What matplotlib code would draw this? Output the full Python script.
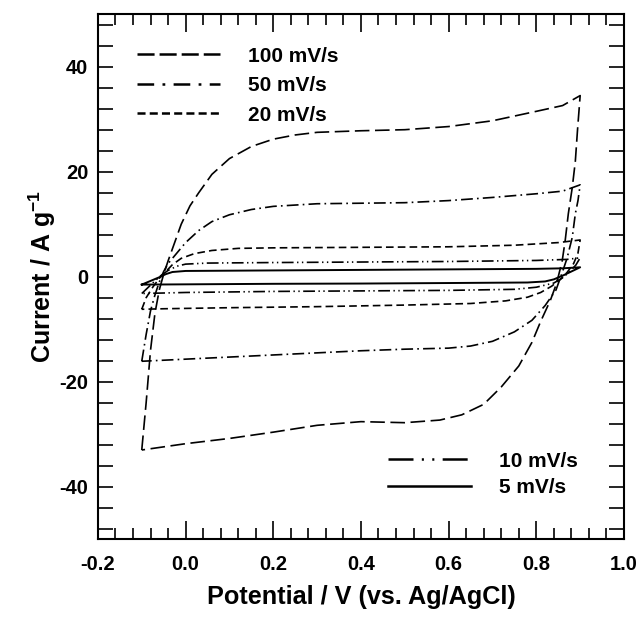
import numpy as np
import matplotlib
matplotlib.use("Agg")
import matplotlib.pyplot as plt
from matplotlib.lines import Line2D
from matplotlib.ticker import MultipleLocator

plt.rcParams['font.family'] = ['Liberation Sans', 'DejaVu Sans']
plt.rcParams['font.weight'] = 'bold'
plt.rcParams['axes.unicode_minus'] = False
plt.rcParams['mathtext.fontset'] = 'custom'
plt.rcParams['mathtext.rm'] = 'Liberation Sans:bold'
plt.rcParams['mathtext.bf'] = 'Liberation Sans:bold'
plt.rcParams['mathtext.default'] = 'bf'
plt.rcParams['lines.scale_dashes'] = False

# --- CV loops: potential (V) and current (A/g) ---
# 100 mV/s
v100 = [-0.10, -0.09, -0.08, -0.07, -0.06, -0.05, -0.04, -0.025, -0.01, 0.01, 0.03, 0.06,
        0.10, 0.15, 0.20, 0.25, 0.30, 0.40, 0.50, 0.60, 0.70, 0.80, 0.86, 0.90,
        0.894, 0.889, 0.882, 0.873, 0.866, 0.859, 0.85, 0.843, 0.832, 0.81, 0.79, 0.76,
        0.72, 0.68, 0.63, 0.58, 0.50, 0.40, 0.30, 0.20, 0.10, 0.00, -0.05, -0.10]
i100 = [-33.0, -24.0, -14.0, -7.0, -2.5, 0.5, 3.0, 6.5, 10.0, 13.5, 16.0, 19.5,
        22.5, 24.8, 26.2, 27.0, 27.5, 27.8, 28.0, 28.6, 29.7, 31.5, 32.6, 34.5,
        28.0, 22.0, 17.0, 12.0, 7.0, 3.0, 0.0, -2.0, -4.5, -8.5, -12.5, -17.0,
        -21.0, -24.3, -26.3, -27.3, -27.8, -27.6, -28.3, -29.6, -30.8, -31.8, -32.4, -33.0]

# 50 mV/s
v50 = [-0.10, -0.09, -0.08, -0.07, -0.06, -0.05, -0.04, -0.02, 0.00, 0.03, 0.06, 0.10,
       0.15, 0.20, 0.30, 0.40, 0.50, 0.60, 0.70, 0.80, 0.86, 0.90,
       0.895, 0.889, 0.882, 0.87, 0.86, 0.845, 0.82, 0.79, 0.75, 0.70, 0.65, 0.60,
       0.50, 0.40, 0.30, 0.20, 0.10, 0.00, -0.05, -0.10]
i50 = [-16.1, -11.0, -6.5, -3.5, -1.0, 1.0, 2.5, 4.5, 6.5, 8.8, 10.5, 11.8,
       12.8, 13.4, 13.9, 14.0, 14.1, 14.5, 15.1, 15.8, 16.3, 17.5,
       14.5, 12.0, 7.5, 3.5, 1.0, -2.5, -5.5, -8.3, -10.5, -12.3, -13.2, -13.6,
       -13.8, -14.1, -14.5, -14.9, -15.3, -15.7, -15.9, -16.1]

# 20 mV/s
v20 = [-0.10, -0.09, -0.075, -0.06, -0.045, -0.03, -0.01, 0.02, 0.06, 0.12, 0.20,
       0.40, 0.60, 0.75, 0.85, 0.90,
       0.895, 0.885, 0.87, 0.855, 0.835, 0.81, 0.78, 0.73, 0.65, 0.50, 0.30, 0.10,
       -0.05, -0.10]
i20 = [-6.2, -4.0, -2.0, -0.3, 1.0, 2.3, 3.5, 4.4, 5.0, 5.4, 5.5,
       5.6, 5.7, 6.0, 6.5, 7.0,
       4.5, 2.5, 0.8, -0.5, -1.8, -3.0, -3.9, -4.6, -5.1, -5.4, -5.7, -5.9,
       -6.1, -6.2]

# 10 mV/s
v10 = [-0.10, -0.085, -0.07, -0.055, -0.04, -0.02, 0.00, 0.05, 0.20, 0.40, 0.60,
       0.80, 0.87, 0.90,
       0.89, 0.875, 0.86, 0.84, 0.80, 0.75, 0.60, 0.40, 0.20, 0.00, -0.10]
i10 = [-3.2, -2.0, -0.8, 0.3, 1.2, 2.0, 2.4, 2.6, 2.7, 2.8, 2.9,
       3.1, 3.3, 3.6,
       2.2, 0.9, -0.2, -1.2, -2.0, -2.4, -2.6, -2.7, -2.8, -3.0, -3.2]

# 5 mV/s
v5 = [-0.10, -0.08, -0.06, -0.045, -0.03, 0.00, 0.20, 0.40, 0.60, 0.80, 0.86, 0.90,
      0.88, 0.86, 0.84, 0.82, 0.78, 0.60, 0.40, 0.20, 0.00, -0.10]
i5 = [-1.5, -0.8, -0.1, 0.5, 0.9, 1.1, 1.2, 1.3, 1.4, 1.5, 1.6, 1.8,
      1.0, 0.2, -0.5, -0.9, -1.1, -1.2, -1.3, -1.35, -1.45, -1.5]

labels_top = ['100 mV/s', '50 mV/s', '20 mV/s']
labels_bottom = ['10 mV/s', '5 mV/s']

# dash patterns (points) for curves and for legend handles
dash_plot = {
    '100': (0, (10.5, 4.0)),
    '50': (0, (8.5, 3.0, 1.2, 3.0)),
    '20': (0, (5.5, 3.0)),
    '10': (0, (8.5, 2.5, 1.0, 2.5, 1.0, 2.5)),
    '5': '-',
}
dash_leg = {
    '100': (0, (12.3, 3.6)),
    '50': (0, (12.0, 6.0, 2.0, 6.0)),
    '20': (0, (5.8, 3.0)),
    '10': (0, (18.0, 6.0, 1.5, 6.0, 1.5, 6.0)),
    '5': '-',
}

fig = plt.figure(figsize=(6.40, 6.17), dpi=100)
ax = fig.add_axes([0.153, 0.126, 0.822, 0.851])

lw = 1.2
ax.plot(v100, i100, color='black', lw=lw, linestyle=dash_plot['100'])
ax.plot(v50, i50, color='black', lw=lw, linestyle=dash_plot['50'])
ax.plot(v20, i20, color='black', lw=lw, linestyle=dash_plot['20'])
ax.plot(v10, i10, color='black', lw=lw, linestyle=dash_plot['10'])
ax.plot(v5, i5, color='black', lw=1.4, linestyle=dash_plot['5'])

ax.set_xlim(-0.2, 1.0)
ax.set_ylim(-50, 50)
ax.xaxis.set_major_locator(MultipleLocator(0.2))
ax.xaxis.set_minor_locator(MultipleLocator(0.04))
ax.yaxis.set_major_locator(MultipleLocator(20))
ax.yaxis.set_minor_locator(MultipleLocator(4))
ax.xaxis.set_major_formatter(matplotlib.ticker.FormatStrFormatter('%.1f'))

for s in ax.spines.values():
    s.set_linewidth(1.5)

ax.tick_params(axis='x', which='major', direction='in', top=True, bottom=True,
               length=13, width=1.2, pad=11, labelsize=14.5)
ax.tick_params(axis='x', which='minor', direction='in', top=True, bottom=True,
               length=8, width=1.2)
ax.tick_params(axis='y', which='both', direction='in', left=True, right=True,
               length=11, width=1.2, pad=7, labelsize=14.5)

ax.set_xlabel('Potential / V (vs. Ag/AgCl)', fontsize=18.2, fontweight='bold', labelpad=8)
ax.set_ylabel('Current / A g$^{-1}$', fontsize=18, fontweight='bold', labelpad=1)

hl = 1.8
h_top = [Line2D([], [], color='black', lw=hl, linestyle=dash_leg[k]) for k in ['100', '50', '20']]
h_bot = [Line2D([], [], color='black', lw=hl, linestyle=dash_leg[k]) for k in ['10', '5']]

leg1 = ax.legend(h_top, labels_top, loc='upper left', bbox_to_anchor=(0.074, 0.938),
                 frameon=False, fontsize=15, handlelength=4.0, handletextpad=1.33,
                 labelspacing=0.5, borderpad=0, borderaxespad=0)
ax.add_artist(leg1)
ax.legend(h_bot, labels_bottom, loc='upper left', bbox_to_anchor=(0.551, 0.167),
          frameon=False, fontsize=15, handlelength=4.0, handletextpad=1.33,
          labelspacing=0.38, borderpad=0, borderaxespad=0)

fig.savefig('out.png', dpi=100)
